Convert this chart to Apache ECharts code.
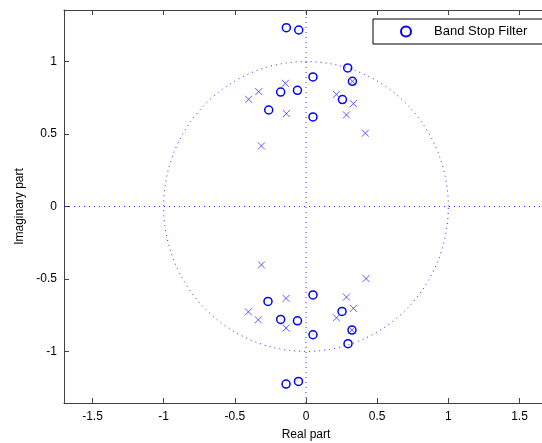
<!DOCTYPE html>
<html>
<head>
<meta charset="utf-8">
<script src="https://cdn.jsdelivr.net/npm/echarts@6/dist/echarts.min.js"></script>
<style>
html,body{margin:0;padding:0;background:#fff;overflow:hidden;}
#chart{width:542px;height:443px;}
</style>
</head>
<body>
<div id="chart"></div>
<script>
// Zeros (circles): real and imaginary parts
const zerosRe = [-0.138, -0.051, 0.293, 0.049, 0.326, -0.178, -0.060, 0.256, -0.262, 0.049,
                 -0.140, -0.053, 0.295, 0.049, 0.323, -0.178, -0.060, 0.253, -0.267, 0.049];
const zerosIm = [1.234, 1.218, 0.956, 0.894, 0.864, 0.790, 0.802, 0.738, 0.666, 0.618,
                 -1.225, -1.207, -0.947, -0.885, -0.853, -0.779, -0.789, -0.724, -0.655, -0.610];
// Poles (crosses)
const polesRe = [-0.145, -0.332, -0.403, 0.214, 0.333, -0.138, 0.284, 0.417, 0.326, -0.313,
                 -0.140, -0.335, -0.405, 0.214, 0.333, -0.140, 0.284, 0.422, 0.323, -0.313];
const polesIm = [0.850, 0.793, 0.740, 0.774, 0.710, 0.641, 0.632, 0.506, 0.864, 0.418,
                 -0.839, -0.782, -0.727, -0.768, -0.703, -0.634, -0.625, -0.497, -0.853, -0.403];
// Tick labels
const xTicks = [-1.5, -1, -0.5, 0, 0.5, 1, 1.5];
const yTicks = [-1, -0.5, 0, 0.5, 1];
const xLim = [-1.7, 1.7];
const yLim = [-1.356, 1.356];
const legendName = 'Band Stop Filter';

const zeroData = zerosRe.map((r, i) => [r, zerosIm[i]]);
const poleData = polesRe.map((r, i) => [r, polesIm[i]]);
// unit circle reference
const circle = [];
for (let k = 0; k <= 200; k++) {
  const t = 2 * Math.PI * k / 200;
  circle.push([Math.cos(t), Math.sin(t)]);
}

const font = "'Liberation Sans', Arial, sans-serif";
const blue = '#0000ff';
const dotted = { color: '#2a2aff', width: 1, type: [1, 4] };

const chart = echarts.init(document.getElementById('chart'));
chart.setOption({
  animation: false,
  backgroundColor: '#fff',
  textStyle: { fontFamily: font },
  grid: { left: 64, width: 484, top: 10, bottom: 40, show: false, containLabel: false, outerBoundsMode: 'none' },
  legend: {
    data: [{ name: legendName }],
    left: 373, top: 19,
    orient: 'horizontal',
    itemWidth: 10, itemHeight: 10,
    padding: [6, 20, 6, 27],
    backgroundColor: '#fff',
    borderColor: '#000', borderWidth: 1, borderRadius: 0,
    textStyle: { fontFamily: font, fontSize: 13, color: '#000', padding: [0, 0, 0, 18] }
  },
  xAxis: [{
    type: 'value', min: xLim[0], max: xLim[1], position: 'bottom',
    name: 'Real part', nameLocation: 'middle', nameGap: 26,
    nameTextStyle: { fontFamily: font, fontSize: 12, color: '#000' },
    axisLine: { show: true, onZero: false, lineStyle: { color: '#404040', width: 1 } },
    axisTick: { show: true, inside: true, length: 5, customValues: xTicks, lineStyle: { color: '#404040' } },
    axisLabel: { show: true, customValues: xTicks, margin: 8, fontSize: 12, color: '#000', fontFamily: font },
    splitLine: { show: false }
  }, {
    type: 'value', min: xLim[0], max: xLim[1], position: 'top',
    axisLine: { show: true, onZero: false, lineStyle: { color: '#404040', width: 1 } },
    axisTick: { show: true, inside: true, length: 5, customValues: xTicks, lineStyle: { color: '#404040' } },
    axisLabel: { show: false },
    splitLine: { show: false }
  }],
  yAxis: [{
    type: 'value', min: yLim[0], max: yLim[1], position: 'left',
    name: 'Imaginary part', nameLocation: 'middle', nameGap: 37, nameRotate: 90,
    nameTextStyle: { fontFamily: font, fontSize: 12, color: '#000' },
    axisLine: { show: true, onZero: false, lineStyle: { color: '#404040', width: 1 } },
    axisTick: { show: true, inside: true, length: 5, customValues: yTicks, lineStyle: { color: '#404040' } },
    axisLabel: { show: true, customValues: yTicks, margin: 7, fontSize: 12, color: '#000', fontFamily: font },
    splitLine: { show: false }
  }, {
    type: 'value', min: yLim[0], max: yLim[1], position: 'right',
    axisLine: { show: true, onZero: false, lineStyle: { color: '#404040', width: 1 } },
    axisTick: { show: true, inside: true, length: 5, customValues: yTicks },
    axisLabel: { show: false },
    splitLine: { show: false }
  }],
  series: [
    {
      name: 'unit circle', type: 'line', data: circle, showSymbol: false, symbol: 'none',
      lineStyle: dotted, silent: true, z: 1
    },
    {
      name: 'real axis', type: 'line', data: [[xLim[0], 0], [xLim[1], 0]], symbol: 'none',
      lineStyle: dotted, silent: true, z: 1
    },
    {
      name: 'imag axis', type: 'line', data: [[0, yLim[0]], [0, yLim[1]]], symbol: 'none',
      lineStyle: dotted, silent: true, z: 1
    },
    {
      name: legendName, type: 'scatter', data: zeroData,
      symbol: 'circle', symbolSize: 8,
      itemStyle: { color: 'rgba(255,255,255,0)', borderColor: blue, borderWidth: 1.5, opacity: 1 },
      z: 3
    },
    {
      name: 'Poles', type: 'scatter', data: poleData,
      symbol: 'path://M0,0L10,10M10,0L0,10', symbolSize: 7,
      itemStyle: { color: 'none', borderColor: '#3333ff', borderWidth: 1 },
      z: 4
    }
  ]
});
</script>
</body>
</html>
